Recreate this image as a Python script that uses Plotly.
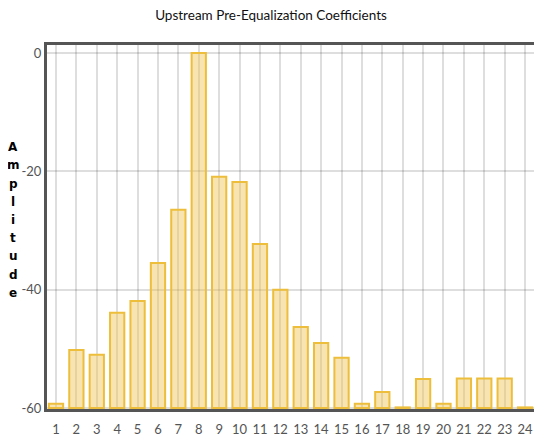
import plotly.graph_objects as go

# ---- data ----
taps = [str(i) for i in range(1, 25)]
amplitude = [-59.3, -50.2, -51.0, -43.9, -41.9, -35.5, -26.5, 0.0, -20.9, -21.8,
             -32.3, -40.0, -46.3, -49.0, -51.5, -59.3, -57.3, -59.9, -55.1, -59.3,
             -55.0, -55.0, -55.0, -59.9]
y_tick_vals = [0, -20, -40, -60]
y_tick_text = ["0", "-20", "-40", "-60"]
title_text = "Upstream Pre-Equalization Coefficients"
y_title = "Amplitude"

BASE = -60
OFF = 8  # page body margin
W, H = 542 - OFF, 436 - OFF
ML, MT, MB, MR = 47 - OFF, 45 - OFF, 27, 0

fig = go.Figure()
fig.add_trace(go.Bar(
    x=list(range(1, 25)),
    y=[v - BASE for v in amplitude],
    base=BASE,
    width=0.7,
    marker=dict(color="rgba(238,196,80,0.45)",
                line=dict(color="rgb(237,190,60)", width=2)),
    hoverinfo="skip",
))

plot_h = H - MT - MB
plot_w = W - ML - MR
annotations = []
letter_top, letter_step = 147 - OFF, 18.25
for i, ch in enumerate(y_title):
    py = letter_top + i * letter_step
    annotations.append(dict(
        text=ch, xref="paper", yref="paper",
        x=(13 - OFF - ML) / plot_w, y=(H - MB - py) / plot_h,
        xanchor="center", yanchor="middle", showarrow=False,
        font=dict(family="DejaVu Sans", size=12, color="#000000", weight="bold"),
    ))

fig.update_layout(
    width=W, height=H,
    margin=dict(l=ML, r=MR, t=MT, b=MB, pad=0),
    paper_bgcolor="white", plot_bgcolor="white",
    showlegend=False,
    title=dict(text=title_text, x=(271 - OFF) / W, xanchor="center",
               y=1 - (15 - OFF) / H, yanchor="middle", xref="container",
               font=dict(family="Lato", size=13.5, color="#111111")),
    font=dict(family="Lato", size=13, color="#545454"),
    annotations=annotations,
)
fig.update_xaxes(
    range=[0.559, 24.83],
    tickmode="array", tickvals=list(range(1, 25)), ticktext=taps,
    showgrid=True, gridcolor="rgba(0,0,0,0.13)", gridwidth=1.5,
    showline=True, linecolor="#555555", linewidth=3, mirror=True,
    ticks="outside", ticklen=6, tickcolor="rgba(0,0,0,0)",
    zeroline=False, fixedrange=True,
)
fig.update_yaxes(
    range=[-60.17, 1.35],
    tickmode="array", tickvals=y_tick_vals, ticktext=y_tick_text,
    showgrid=True, gridcolor="rgba(0,0,0,0.13)", gridwidth=1.5,
    showline=True, linecolor="#555555", linewidth=3, mirror=False,
    ticks="", 
    zeroline=False, fixedrange=True,
)

fig.write_html("out.html")
